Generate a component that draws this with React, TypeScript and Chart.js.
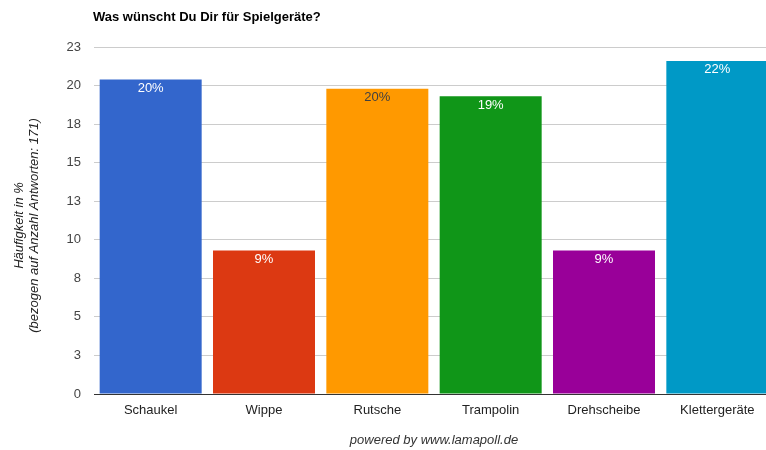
import React, { useEffect, useRef } from "react";
import { Chart, registerables } from "chart.js";

Chart.register(...registerables);

const categories = ["Schaukel", "Wippe", "Rutsche", "Trampolin", "Drehscheibe", "Klettergeräte"];
const values = [20.4, 9.3, 19.8, 19.3, 9.3, 21.6];
const barColors = ["#3366cc", "#dc3912", "#ff9900", "#109618", "#990099", "#0099c6"];
const labelColors = ["#ffffff", "#ffffff", "#404040", "#ffffff", "#ffffff", "#ffffff"];
const yTickLabels = ["0", "3", "5", "8", "10", "13", "15", "18", "20", "23"];
const titleText = "Was wünscht Du Dir für Spielgeräte?";
const yTitleLines = ["Häufigkeit in %", "(bezogen auf Anzahl Antworten: 171)"];
const footerText = "powered by www.lamapoll.de";

const FONT = "Arial, 'Liberation Sans', sans-serif";

const decorPlugin = {
  id: "decor",
  afterDatasetsDraw(chart: any) {
    const ctx = chart.ctx;
    const meta = chart.getDatasetMeta(0);
    ctx.save();
    ctx.font = `13px ${FONT}`;
    ctx.textAlign = "center";
    ctx.textBaseline = "middle";
    meta.data.forEach((bar: any, i: number) => {
      ctx.fillStyle = labelColors[i];
      ctx.fillText(Math.round(values[i]) + "%", bar.x, bar.y + 9);
    });
    ctx.restore();
  },
  afterDraw(chart: any) {
    const ctx = chart.ctx;
    const area = chart.chartArea;
    ctx.save();
    // title
    ctx.font = `bold 13px ${FONT}`;
    ctx.fillStyle = "#000000";
    ctx.textAlign = "left";
    ctx.textBaseline = "middle";
    ctx.fillText(titleText, area.left - 1, 17);
    // y title
    ctx.font = `italic 13px ${FONT}`;
    ctx.fillStyle = "#222222";
    ctx.textAlign = "center";
    const cy = (area.top + area.bottom) / 2 + 5;
    ctx.translate(0, cy);
    ctx.rotate(-Math.PI / 2);
    ctx.fillText(yTitleLines[0], 0, 19);
    ctx.fillText(yTitleLines[1], 0, 34);
    ctx.restore();
    // footer
    ctx.save();
    ctx.font = `italic 13px ${FONT}`;
    ctx.fillStyle = "#333333";
    ctx.textAlign = "center";
    ctx.textBaseline = "middle";
    ctx.fillText(footerText, 434, 440);
    ctx.restore();
  },
};

export default function App() {
  const ref = useRef<HTMLCanvasElement | null>(null);
  useEffect(() => {
    if (!ref.current) return;
    const chart = new Chart(ref.current, {
      type: "bar",
      data: {
        labels: categories,
        datasets: [
          {
            data: values,
            backgroundColor: barColors,
            borderWidth: 0,
            categoryPercentage: 1,
            barPercentage: 0.9,
          },
        ],
      },
      options: {
        animation: false,
        responsive: false,
        devicePixelRatio: 1,
        layout: { padding: { top: 47, left: 0, right: 0, bottom: 0 } },
        plugins: {
          legend: { display: false },
          title: { display: false },
          tooltip: { enabled: false },
        },
        scales: {
          x: {
            grid: { display: false, drawTicks: false },
            border: { display: true, color: "#333333", width: 1 },
            ticks: {
              color: "#222222",
              font: { family: FONT, size: 13 },
              padding: 9,
            },
            afterFit(scale: any) {
              scale.height = 56;
            },
          },
          y: {
            min: 0,
            max: 22.5,
            border: { display: false },
            grid: {
              drawTicks: false,
              color: (c: any) => (c.tick && c.tick.value === 0 ? "#333333" : "#cccccc"),
            },
            ticks: {
              stepSize: 2.5,
              color: "#444444",
              font: { family: FONT, size: 13 },
              padding: 13,
              callback: (_v: any, i: number) => yTickLabels[i],
            },
            afterFit(scale: any) {
              scale.width = 94;
            },
          },
        },
      },
      plugins: [decorPlugin],
    });
    return () => chart.destroy();
  }, []);

  return (
    <div
      style={{
        position: "fixed",
        left: 0,
        top: 0,
        width: 766,
        height: 450,
        overflow: "hidden",
        background: "#ffffff",
      }}
    >
      <canvas ref={ref} width={774} height={450} style={{ display: "block" }} />
    </div>
  );
}
